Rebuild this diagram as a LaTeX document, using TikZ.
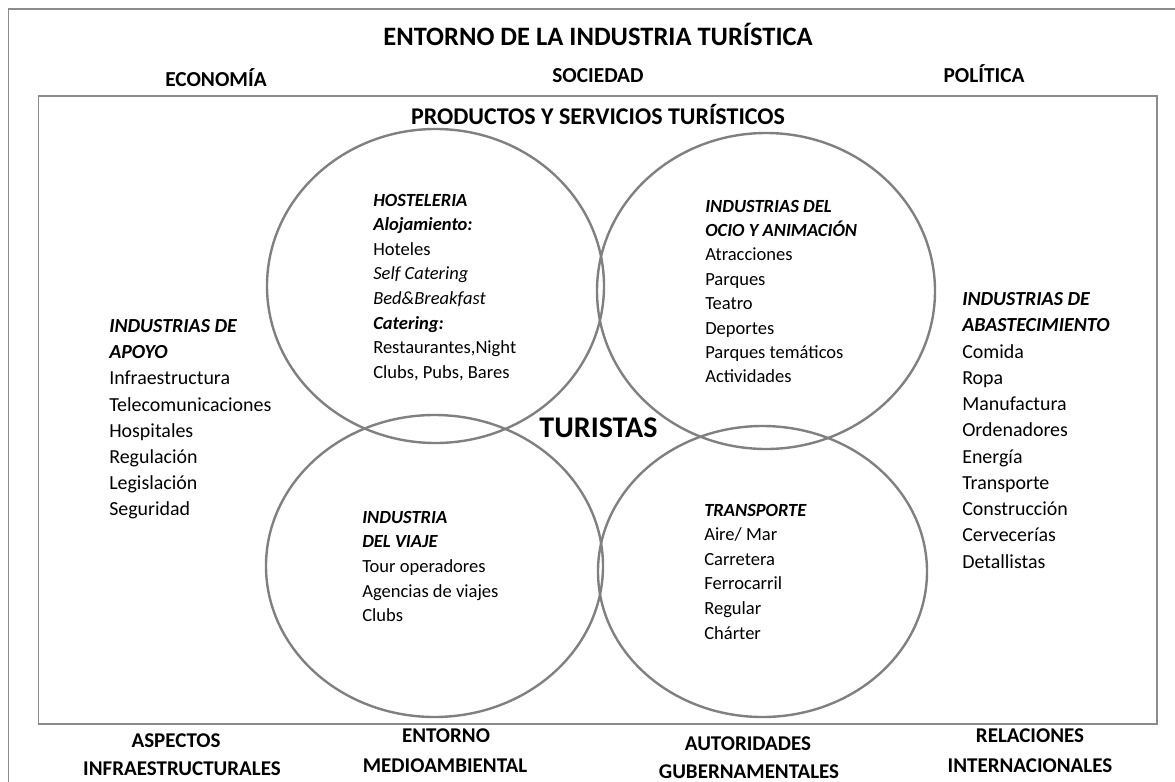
\documentclass[tikz,border=0pt]{standalone}
\usepackage{fontspec}
\setmainfont{Carlito}
\newcommand{\Ln}[1]{\hbox{#1}}
\newcommand{\Hd}[1]{\hbox{\bfseries\itshape #1}}
\begin{document}
\begin{tikzpicture}[x=0.75pt,y=-0.75pt]
\tikzset{
  circ/.style={draw=black!50, line width=1.8pt},
  framel/.style={draw=black!45, line width=1.1pt},
  lbl/.style={font=\fontsize{15.75}{18}\selectfont\bfseries, inner sep=0pt, anchor=base},
  toplbl/.style={font=\fontsize{16}{18}\selectfont\bfseries, inner sep=0pt, anchor=base},
  inblk/.style={font=\fontsize{13.9}{18.45}\selectfont, inner sep=0pt, anchor=base west},
  sideblk/.style={font=\fontsize{14.95}{19.65}\selectfont, inner sep=0pt, anchor=base west}
}
\useasboundingbox (0,0) rectangle (1175,782);
% frames
\coordinate (oTL) at (8.5,9);
\coordinate (oTR) at (1175,9);
\coordinate (oBL) at (8.5,782);
\draw[framel] (oTR) -- (oTL) -- (oBL);
\draw[framel] (38.5,96) rectangle (1157,724);
% ellipses
\draw[circ] (435.5,286) ellipse [x radius=168.5, y radius=157];
\draw[circ] (766,291) ellipse [x radius=169, y radius=158];
\draw[circ] (434.5,566) ellipse [x radius=168.5, y radius=151];
\draw[circ] (762.5,571.5) ellipse [x radius=164.5, y radius=145.5];
% titles
\node[font=\fontsize{19.9}{22}\selectfont\bfseries, inner sep=0pt, anchor=base] (title) at (598,45) {ENTORNO DE LA INDUSTRIA TURÍSTICA};
\node[toplbl] (eco) at (216,86) {ECONOMÍA};
\node[toplbl] (soc) at (598,82) {SOCIEDAD};
\node[toplbl] (pol) at (984,82) {POLÍTICA};
\node[font=\fontsize{18}{20}\selectfont\bfseries, inner sep=0pt, anchor=base] (prod) at (598,124) {PRODUCTOS Y SERVICIOS TURÍSTICOS};
\node[font=\fontsize{22.5}{24}\selectfont\bfseries, inner sep=0pt, anchor=base] (tur) at (598.5,437) {TURISTAS};
% bottom labels
\node[lbl] (asp1) at (176,747) {ASPECTOS};
\node[lbl] (asp2) at (182,775) {INFRAESTRUCTURALES};
\node[lbl] (ent1) at (446,742) {ENTORNO};
\node[lbl] (ent2) at (445,772) {MEDIOAMBIENTAL};
\node[lbl] (aut1) at (748,750) {AUTORIDADES};
\node[lbl] (aut2) at (749,778) {GUBERNAMENTALES};
\node[lbl] (rel1) at (1030,742) {RELACIONES};
\node[lbl] (rel2) at (1030,772) {INTERNACIONALES};
% blocks in ellipses
\node[inblk] (hos) at (373,206) {\vtop{\baselineskip=18.45pt
  \Hd{HOSTELERIA}\Hd{Alojamiento:}\Ln{Hoteles}\Ln{\itshape Self Catering}\Ln{\itshape Bed\&Breakfast}\Hd{Catering:}\Ln{Restaurantes,Night}\Ln{Clubs, Pubs, Bares}}};
\node[inblk] (ocio) at (705,212) {\vtop{\baselineskip=18.3pt
  \Hd{INDUSTRIAS DEL}\Hd{OCIO Y ANIMACIÓN}\Ln{Atracciones}\Ln{Parques}\Ln{Teatro}\Ln{Deportes}\Ln{Parques temáticos}\Ln{Actividades}}};
\node[inblk] (viaje) at (362,523) {\vtop{\baselineskip=18.5pt
  \Hd{INDUSTRIA}\Hd{DEL VIAJE}\Ln{Tour operadores}\Ln{Agencias de viajes}\Ln{Clubs}}};
\node[inblk] (trans) at (704,516) {\vtop{\baselineskip=18.45pt
  \Hd{TRANSPORTE}\Ln{Aire/ Mar}\Ln{Carretera}\Ln{Ferrocarril}\Ln{Regular}\Ln{Chárter}}};
% side blocks
\node[sideblk] (apoyo) at (109,332.5) {\vtop{\baselineskip=19.65pt
  \Hd{INDUSTRIAS DE}\Hd{APOYO}\Ln{Infraestructura}\Ln{Telecomunicaciones}\Ln{Hospitales}\Ln{Regulación}\Ln{Legislación}\Ln{Seguridad}}};
\node[sideblk] (abast) at (962,305.5) {\vtop{\baselineskip=19.7pt
  \Hd{INDUSTRIAS DE}\Hd{ABASTECIMIENTO}\Ln{Comida}\Ln{Ropa}\Ln{Manufactura}\Ln{Ordenadores}\Ln{Energía}\Ln{Transporte}\Ln{Construcción}\Ln{Cervecerías}\Ln{Detallistas}}};
\end{tikzpicture}
\end{document}
